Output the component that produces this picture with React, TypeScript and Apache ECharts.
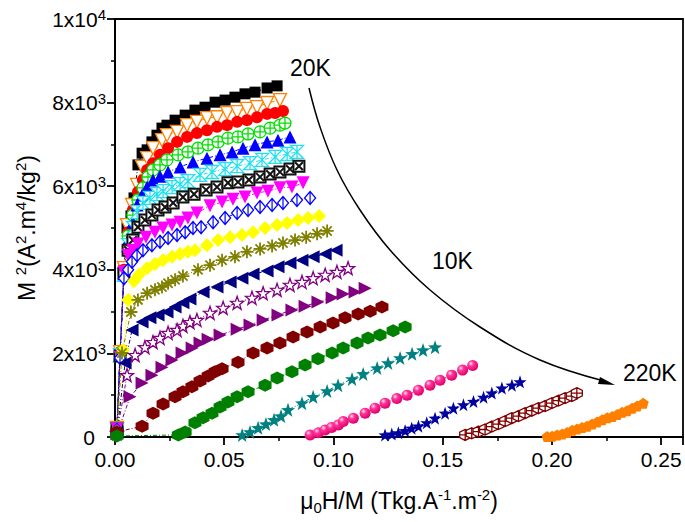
import React, { useEffect, useRef } from 'react';
import * as echarts from 'echarts';

// ---- data: [mu0H/M, M^2] pairs, one array per temperature ----
const temperatures = ['20K', '30K', '40K', '50K', '60K', '70K', '80K', '90K', '100K', '110K', '120K', '130K', '140K', '150K', '160K', '170K', '180K', '190K', '200K', '210K', '220K'];

const s20 = [[0.0009,170],[0.0023,1990],[0.0041,4000],[0.0055,5000],[0.0073,5290],[0.0087,5720],[0.0105,6510],[0.0124,6790],[0.0147,6870],[0.0169,7060],[0.0192,7220],[0.0215,7390],[0.0238,7460],[0.0275,7580],[0.0321,7700],[0.0366,7820],[0.0412,7890],[0.0458,8010],[0.0504,8060],[0.0549,8130],[0.0595,8210],[0.0641,8250],[0.0696,8350],[0.0742,8400]];
const s30 = [[0.0009,215],[0.0023,2030],[0.0041,4040],[0.0055,5070],[0.0078,5550],[0.0101,6030],[0.0124,6460],[0.0147,6670],[0.0174,6910],[0.0215,7100],[0.0238,7220],[0.0284,7300],[0.0330,7460],[0.0375,7540],[0.0421,7630],[0.0467,7650],[0.0513,7750],[0.0559,7770],[0.0604,7850],[0.0650,7890],[0.0696,7990],[0.0755,8060]];
const s40 = [[0.0009,215],[0.0023,2030],[0.0041,4000],[0.0060,4900],[0.0082,5430],[0.0105,5860],[0.0128,6150],[0.0147,6390],[0.0174,6550],[0.0206,6750],[0.0243,6910],[0.0284,7060],[0.0330,7180],[0.0375,7270],[0.0421,7340],[0.0467,7420],[0.0513,7460],[0.0559,7540],[0.0604,7580],[0.0650,7650],[0.0696,7730],[0.0733,7750],[0.0769,7800]];
const s50 = [[0.0009,215],[0.0023,2010],[0.0041,3950],[0.0060,4810],[0.0082,5310],[0.0105,5670],[0.0128,5960],[0.0151,6220],[0.0174,6390],[0.0206,6510],[0.0238,6630],[0.0289,6750],[0.0334,6820],[0.0380,6910],[0.0426,6990],[0.0472,7060],[0.0517,7150],[0.0563,7180],[0.0609,7250],[0.0664,7300],[0.0710,7390],[0.0755,7460],[0.0778,7510]];
const s60 = [[0.0009,215],[0.0023,1990],[0.0041,3900],[0.0060,4710],[0.0082,5140],[0.0101,5550],[0.0124,5790],[0.0147,5980],[0.0174,6150],[0.0206,6240],[0.0243,6340],[0.0298,6460],[0.0357,6580],[0.0421,6670],[0.0481,6750],[0.0536,6820],[0.0586,6910],[0.0641,6990],[0.0696,7060],[0.0746,7100],[0.0801,7180]];
const s70 = [[0.0009,190],[0.0023,1960],[0.0041,3880],[0.0060,4590],[0.0082,5000],[0.0101,5380],[0.0128,5600],[0.0160,5720],[0.0192,5810],[0.0220,5880],[0.0261,5980],[0.0298,6050],[0.0334,6120],[0.0389,6270],[0.0444,6340],[0.0504,6410],[0.0559,6480],[0.0618,6550],[0.0673,6630],[0.0733,6700],[0.0788,6770],[0.0833,6820]];
const s80 = [[0.0009,190],[0.0023,1940],[0.0041,3920],[0.0060,4470],[0.0082,4710],[0.0105,5020],[0.0137,5190],[0.0169,5310],[0.0197,5430],[0.0229,5500],[0.0266,5600],[0.0311,5740],[0.0362,5810],[0.0417,5910],[0.0467,5980],[0.0517,6080],[0.0563,6100],[0.0613,6150],[0.0664,6220],[0.0710,6290],[0.0755,6340],[0.0801,6410],[0.0842,6480]];
const s90 = [[0.0009,190],[0.0023,1910],[0.0041,3950],[0.0060,4350],[0.0082,4470],[0.0105,4620],[0.0142,4780],[0.0183,4900],[0.0220,5000],[0.0261,5070],[0.0298,5140],[0.0334,5240],[0.0375,5360],[0.0435,5530],[0.0490,5620],[0.0540,5690],[0.0595,5740],[0.0650,5840],[0.0700,5880],[0.0755,5960],[0.0810,5980],[0.0861,6080]];
const s100 = [[0.0009,170],[0.0023,1890],[0.0041,3800],[0.0060,4000],[0.0078,4190],[0.0101,4350],[0.0128,4470],[0.0169,4590],[0.0206,4670],[0.0243,4760],[0.0284,4830],[0.0321,4900],[0.0357,5000],[0.0394,5020],[0.0449,5140],[0.0504,5240],[0.0559,5360],[0.0609,5430],[0.0664,5500],[0.0719,5550],[0.0769,5600],[0.0833,5670],[0.0893,5720]];
const s110 = [[0.0009,140],[0.0037,2080],[0.0060,3280],[0.0087,3730],[0.0110,3880],[0.0147,4040],[0.0183,4140],[0.0220,4230],[0.0261,4310],[0.0298,4380],[0.0334,4430],[0.0366,4470],[0.0421,4590],[0.0472,4710],[0.0527,4780],[0.0581,4830],[0.0632,4900],[0.0687,5000],[0.0742,5070],[0.0788,5120],[0.0838,5190],[0.0884,5240],[0.0934,5290]];
const s120 = [[0.0009,120],[0.0032,2010],[0.0073,2990],[0.0105,3280],[0.0147,3440],[0.0183,3520],[0.0215,3590],[0.0243,3680],[0.0275,3760],[0.0311,3850],[0.0380,4000],[0.0435,4110],[0.0490,4230],[0.0549,4310],[0.0604,4430],[0.0664,4500],[0.0719,4570],[0.0769,4640],[0.0824,4710],[0.0875,4780],[0.0925,4860],[0.0971,4930]];
const s130 = [[0.0009,100],[0.0046,1770],[0.0078,2560],[0.0124,2750],[0.0160,2850],[0.0197,2920],[0.0238,2990],[0.0275,3110],[0.0311,3210],[0.0343,3300],[0.0403,3470],[0.0467,3590],[0.0527,3710],[0.0581,3800],[0.0632,3900],[0.0696,3970],[0.0746,4070],[0.0801,4160],[0.0856,4230],[0.0907,4310],[0.0962,4380],[0.1012,4470]];
const s140 = [[0.0009,100],[0.0055,1480],[0.0092,1960],[0.0137,2150],[0.0174,2270],[0.0206,2370],[0.0243,2490],[0.0284,2560],[0.0311,2660],[0.0343,2750],[0.0375,2800],[0.0435,2970],[0.0495,3090],[0.0559,3210],[0.0627,3330],[0.0678,3440],[0.0742,3520],[0.0801,3640],[0.0856,3710],[0.0907,3800],[0.0962,3880],[0.1016,3950],[0.1067,4040]];
const s150 = [[0.0009,70],[0.0069,960],[0.0124,1290],[0.0169,1480],[0.0215,1670],[0.0261,1840],[0.0307,2010],[0.0353,2130],[0.0389,2250],[0.0426,2340],[0.0481,2440],[0.0559,2580],[0.0618,2680],[0.0678,2800],[0.0746,2920],[0.0810,3040],[0.0870,3130],[0.0929,3230],[0.0994,3330],[0.1044,3420],[0.1099,3470],[0.1145,3560]];
const s160 = [[0.0009,120],[0.0124,260],[0.0174,570],[0.0220,790],[0.0275,960],[0.0311,1080],[0.0352,1200],[0.0389,1340],[0.0426,1460],[0.0458,1560],[0.0490,1630],[0.0563,1790],[0.0632,2010],[0.0696,2130],[0.0755,2250],[0.0815,2390],[0.0879,2510],[0.0939,2630],[0.0998,2730],[0.1053,2850],[0.1113,2940],[0.1168,3010],[0.1222,3110]];
const s170 = [[0.0009,24],[0.0290,50],[0.0321,120],[0.0366,340],[0.0403,460],[0.0444,570],[0.0481,720],[0.0517,840],[0.0559,960],[0.0609,1080],[0.0687,1240],[0.0742,1410],[0.0810,1560],[0.0870,1720],[0.0929,1870],[0.0994,2010],[0.1044,2130],[0.1108,2250],[0.1158,2370],[0.1213,2440],[0.1273,2540],[0.1328,2630]];
const s180 = [[0.0582,50],[0.0618,120],[0.0655,220],[0.0691,310],[0.0728,410],[0.0760,500],[0.0792,650],[0.0856,810],[0.0907,960],[0.0971,1100],[0.1021,1240],[0.1085,1390],[0.1136,1510],[0.1200,1650],[0.1250,1770],[0.1305,1890],[0.1360,1990],[0.1410,2080],[0.1465,2150]];
const s190 = [[0.0893,50],[0.0931,100],[0.0962,170],[0.0992,230],[0.1023,290],[0.1045,370],[0.1091,450],[0.1145,570],[0.1190,690],[0.1236,810],[0.1290,920],[0.1337,1000],[0.1389,1120],[0.1442,1240],[0.1488,1360],[0.1541,1480],[0.1591,1600],[0.1637,1710]];
const s200 = [[0.1236,50],[0.1267,70],[0.1297,100],[0.1328,150],[0.1358,210],[0.1389,260],[0.1427,340],[0.1465,450],[0.1511,570],[0.1549,690],[0.1595,770],[0.1641,850],[0.1687,950],[0.1725,1050],[0.1771,1170],[0.1817,1240],[0.1854,1320]];
const s210 = [[0.1603,50],[0.1633,90],[0.1664,130],[0.1694,180],[0.1725,250],[0.1755,310],[0.1786,380],[0.1816,450],[0.1847,500],[0.1877,570],[0.1908,630],[0.1938,690],[0.1969,740],[0.2000,810],[0.2030,870],[0.2060,930],[0.2091,980],[0.2114,1050]];
const s220 = [[0.1978,10],[0.2001,20],[0.2024,50],[0.2047,70],[0.2070,110],[0.2093,160],[0.2115,190],[0.2138,230],[0.2161,260],[0.2184,310],[0.2207,360],[0.2230,410],[0.2253,460],[0.2276,490],[0.2299,540],[0.2321,590],[0.2344,630],[0.2367,690],[0.2390,740],[0.2418,810]];

const seriesData = [s20, s30, s40, s50, s60, s70, s80, s90, s100, s110, s120, s130, s140, s150, s160, s170, s180, s190, s200, s210, s220];

const yTicks = [0, 2000, 4000, 6000, 8000, 10000];
const xTicks = [0, 0.05, 0.1, 0.15, 0.2, 0.25];

// ---- marker shapes ----
const P_STAR = 'path://M10,0 L12.35,6.76 L19.51,6.91 L13.8,11.24 L15.88,18.09 L10,14 L4.12,18.09 L6.2,11.24 L0.49,6.91 L7.65,6.76 Z';
const P_HEX = 'path://M10,0 L18.66,5 L18.66,15 L10,20 L1.34,15 L1.34,5 Z';
const P_HEX_CROSS = 'path://M10,0 L18.66,5 L18.66,15 L10,20 L1.34,15 L1.34,5 Z M10,0 L10,20 M1.34,10 L18.66,10';
const P_CIRCLE_PLUS = 'path://M0,10 A10,10 0 1,1 20,10 A10,10 0 1,1 0,10 Z M10,0 L10,20 M0,10 L20,10';
const P_SQUARE_X = 'path://M0,0 L20,0 L20,20 L0,20 Z M3,3 L17,17 M17,3 L3,17';
const P_DIAMOND_LINE = 'path://M10,0 L20,10 L10,20 L0,10 Z M10,0 L10,20';
const P_ASTER = 'path://M10,0 L10,20 M0,10 L20,10 M2.9,2.9 L17.1,17.1 M17.1,2.9 L2.9,17.1';
const P_HOURGLASS = 'path://M0,0 L20,0 L0,20 L20,20 Z M10,0 L10,20';
const P_PENT = 'path://M10,0 L19.51,6.91 L15.88,18.09 L4.12,18.09 L0.49,6.91 Z';

type Sty = { color: string; symbol: string; size: number | number[]; rotate?: number; open?: boolean; sphere?: boolean; bw?: number };
const styles: Sty[] = [
  { color: '#000000', symbol: 'rect', size: 11 },
  { color: '#FF8000', symbol: 'triangle', rotate: 180, size: 13, open: true },
  { color: '#FF0000', symbol: 'circle', size: 12 },
  { color: '#00E000', symbol: P_CIRCLE_PLUS, size: 12, open: true },
  { color: '#0000FF', symbol: 'triangle', size: 13 },
  { color: '#22E0EE', symbol: P_HOURGLASS, size: 13, open: true },
  { color: '#111111', symbol: P_SQUARE_X, size: 11, open: true, bw: 2 },
  { color: '#FF00FF', symbol: 'triangle', rotate: 180, size: 13 },
  { color: '#0000FF', symbol: P_DIAMOND_LINE, size: [11, 13], open: true },
  { color: '#FFFF00', symbol: 'diamond', size: 14 },
  { color: '#808000', symbol: P_ASTER, size: 13, open: true, bw: 1.8 },
  { color: '#000080', symbol: 'triangle', rotate: 90, size: 13 },
  { color: '#800080', symbol: P_STAR, size: 13, open: true },
  { color: '#800080', symbol: 'triangle', rotate: -90, size: 13 },
  { color: '#800000', symbol: P_HEX, size: 13 },
  { color: '#008000', symbol: P_HEX, size: 13 },
  { color: '#008080', symbol: P_STAR, size: 14 },
  { color: '#FF0080', symbol: 'circle', size: 11, sphere: true },
  { color: '#0000A0', symbol: P_STAR, size: 13 },
  { color: '#800000', symbol: P_HEX_CROSS, size: 11, open: true },
  { color: '#FF8000', symbol: P_PENT, size: 11 },
];

const FONT = '"Liberation Sans", Arimo, Arial, Helvetica, sans-serif';

export default function App() {
  const ref = useRef<HTMLDivElement>(null);
  useEffect(() => {
    if (!ref.current) return;
    const chart = echarts.init(ref.current, null, { renderer: 'svg' });

    const series = seriesData.map((d, i) => {
      const s = styles[i];
      let itemColor: any = s.color;
      if (s.open) itemColor = s.symbol === P_ASTER ? s.color : '#FFFFFF';
      if (s.sphere) {
        itemColor = new echarts.graphic.RadialGradient(0.35, 0.32, 0.7, [
          { offset: 0, color: '#FFE0F0' },
          { offset: 0.35, color: '#FF3399' },
          { offset: 1, color: '#E0006A' },
        ]);
      }
      return {
        name: temperatures[i],
        type: 'line',
        data: d,
        symbol: s.symbol,
        symbolSize: s.size,
        symbolRotate: s.rotate || 0,
        showSymbol: true,
        lineStyle: { color: s.color, width: 1, type: [4, 2, 1, 2] },
        itemStyle: {
          color: itemColor,
          borderColor: s.color,
          borderWidth: s.open ? (s.bw || 1.3) : 0,
        },
        emphasis: { disabled: true },
        silent: true,
      };
    });

    const tickRich = {
      sup: { fontSize: 15, fontFamily: FONT, color: '#000', verticalAlign: 'top', lineHeight: 14 },
      z: { fontSize: 21, fontFamily: FONT, color: '#000', padding: [0, 11, 0, 0] },
    };
    const nameRich = {
      sup: { fontSize: 15, fontFamily: FONT, color: '#000', verticalAlign: 'top', lineHeight: 14 },
      sub: { fontSize: 15, fontFamily: FONT, color: '#000', verticalAlign: 'bottom', lineHeight: 14 },
    };

    chart.setOption({
      animation: false,
      backgroundColor: '#fff',
      grid: { left: 115, right: 2, top: 19, bottom: 85, show: true, borderColor: '#000', borderWidth: 1.8, backgroundColor: 'transparent' },
      xAxis: {
        type: 'value',
        min: xTicks[0],
        max: 0.26,
        interval: xTicks[1] - xTicks[0],
        axisLine: { show: true, onZero: false, lineStyle: { color: '#000', width: 2 } },
        axisTick: { show: true, length: 8, lineStyle: { color: '#000', width: 1.8 } },
        minorTick: { show: true, splitNumber: 2, length: 4, lineStyle: { color: '#000', width: 1.5 } },
        splitLine: { show: false },
        axisLabel: {
          fontSize: 21, fontFamily: FONT, color: '#000', margin: 12,
          showMaxLabel: false,
          formatter: (v: number) => (xTicks.some((t) => Math.abs(t - v) < 1e-9) ? v.toFixed(2) : ''),
        },
        name: 'μ{sub|0}H/M (Tkg.A{sup|-1}.m{sup|-2})',
        nameLocation: 'middle',
        nameGap: 50,
        nameTextStyle: { fontSize: 23, fontFamily: FONT, color: '#000', lineHeight: 28, rich: nameRich },
      },
      yAxis: {
        type: 'value',
        min: yTicks[0],
        max: yTicks[yTicks.length - 1],
        interval: yTicks[1] - yTicks[0],
        axisLine: { show: true, onZero: false, lineStyle: { color: '#000', width: 2 } },
        axisTick: { show: true, length: 8, lineStyle: { color: '#000', width: 1.8 } },
        minorTick: { show: true, splitNumber: 2, length: 4, lineStyle: { color: '#000', width: 1.5 } },
        splitLine: { show: false },
        axisLabel: {
          fontSize: 21, fontFamily: FONT, color: '#000', margin: 9, lineHeight: 24,
          formatter: (v: number) => {
            if (v === 0) return '{z|0}';
            if (v >= 10000) return '1x10{sup|4}';
            return `${v / 1000}x10{sup|3}`;
          },
          rich: tickRich,
        },
        name: 'M {sup|2}(A{sup|2}.m{sup|4}/kg{sup|2})',
        nameLocation: 'middle',
        nameRotate: 90,
        nameGap: 72,
        nameTextStyle: { fontSize: 23, fontFamily: FONT, color: '#000', lineHeight: 28, rich: nameRich },
      },
      series,
      graphic: [
        { type: 'text', left: 290, top: 56, style: { text: '20K', font: `23px ${FONT}`, fill: '#000' }, z: 100 },
        { type: 'text', left: 432, top: 249, style: { text: '10K', font: `23px ${FONT}`, fill: '#000' }, z: 100 },
        { type: 'text', left: 623, top: 361, style: { text: '220K', font: `23px ${FONT}`, fill: '#000' }, z: 100 },
        {
          type: 'polyline',
          shape: { points: [[309, 88], [320, 127], [337, 170], [360, 210], [390, 250], [430, 290], [480, 327], [540, 360], [604, 381]], smooth: 0.4 },
          style: { stroke: '#000', lineWidth: 1.5, fill: null },
          z: 100,
        },
        {
          type: 'polygon',
          shape: { points: [[615, 385], [600, 377], [598, 384]] },
          style: { fill: '#000' },
          z: 100,
        },
      ],
    });
    return () => chart.dispose();
  }, []);
  return <div ref={ref} style={{ position: 'fixed', left: 0, top: 0, width: 685, height: 522, background: '#fff' }} />;
}
